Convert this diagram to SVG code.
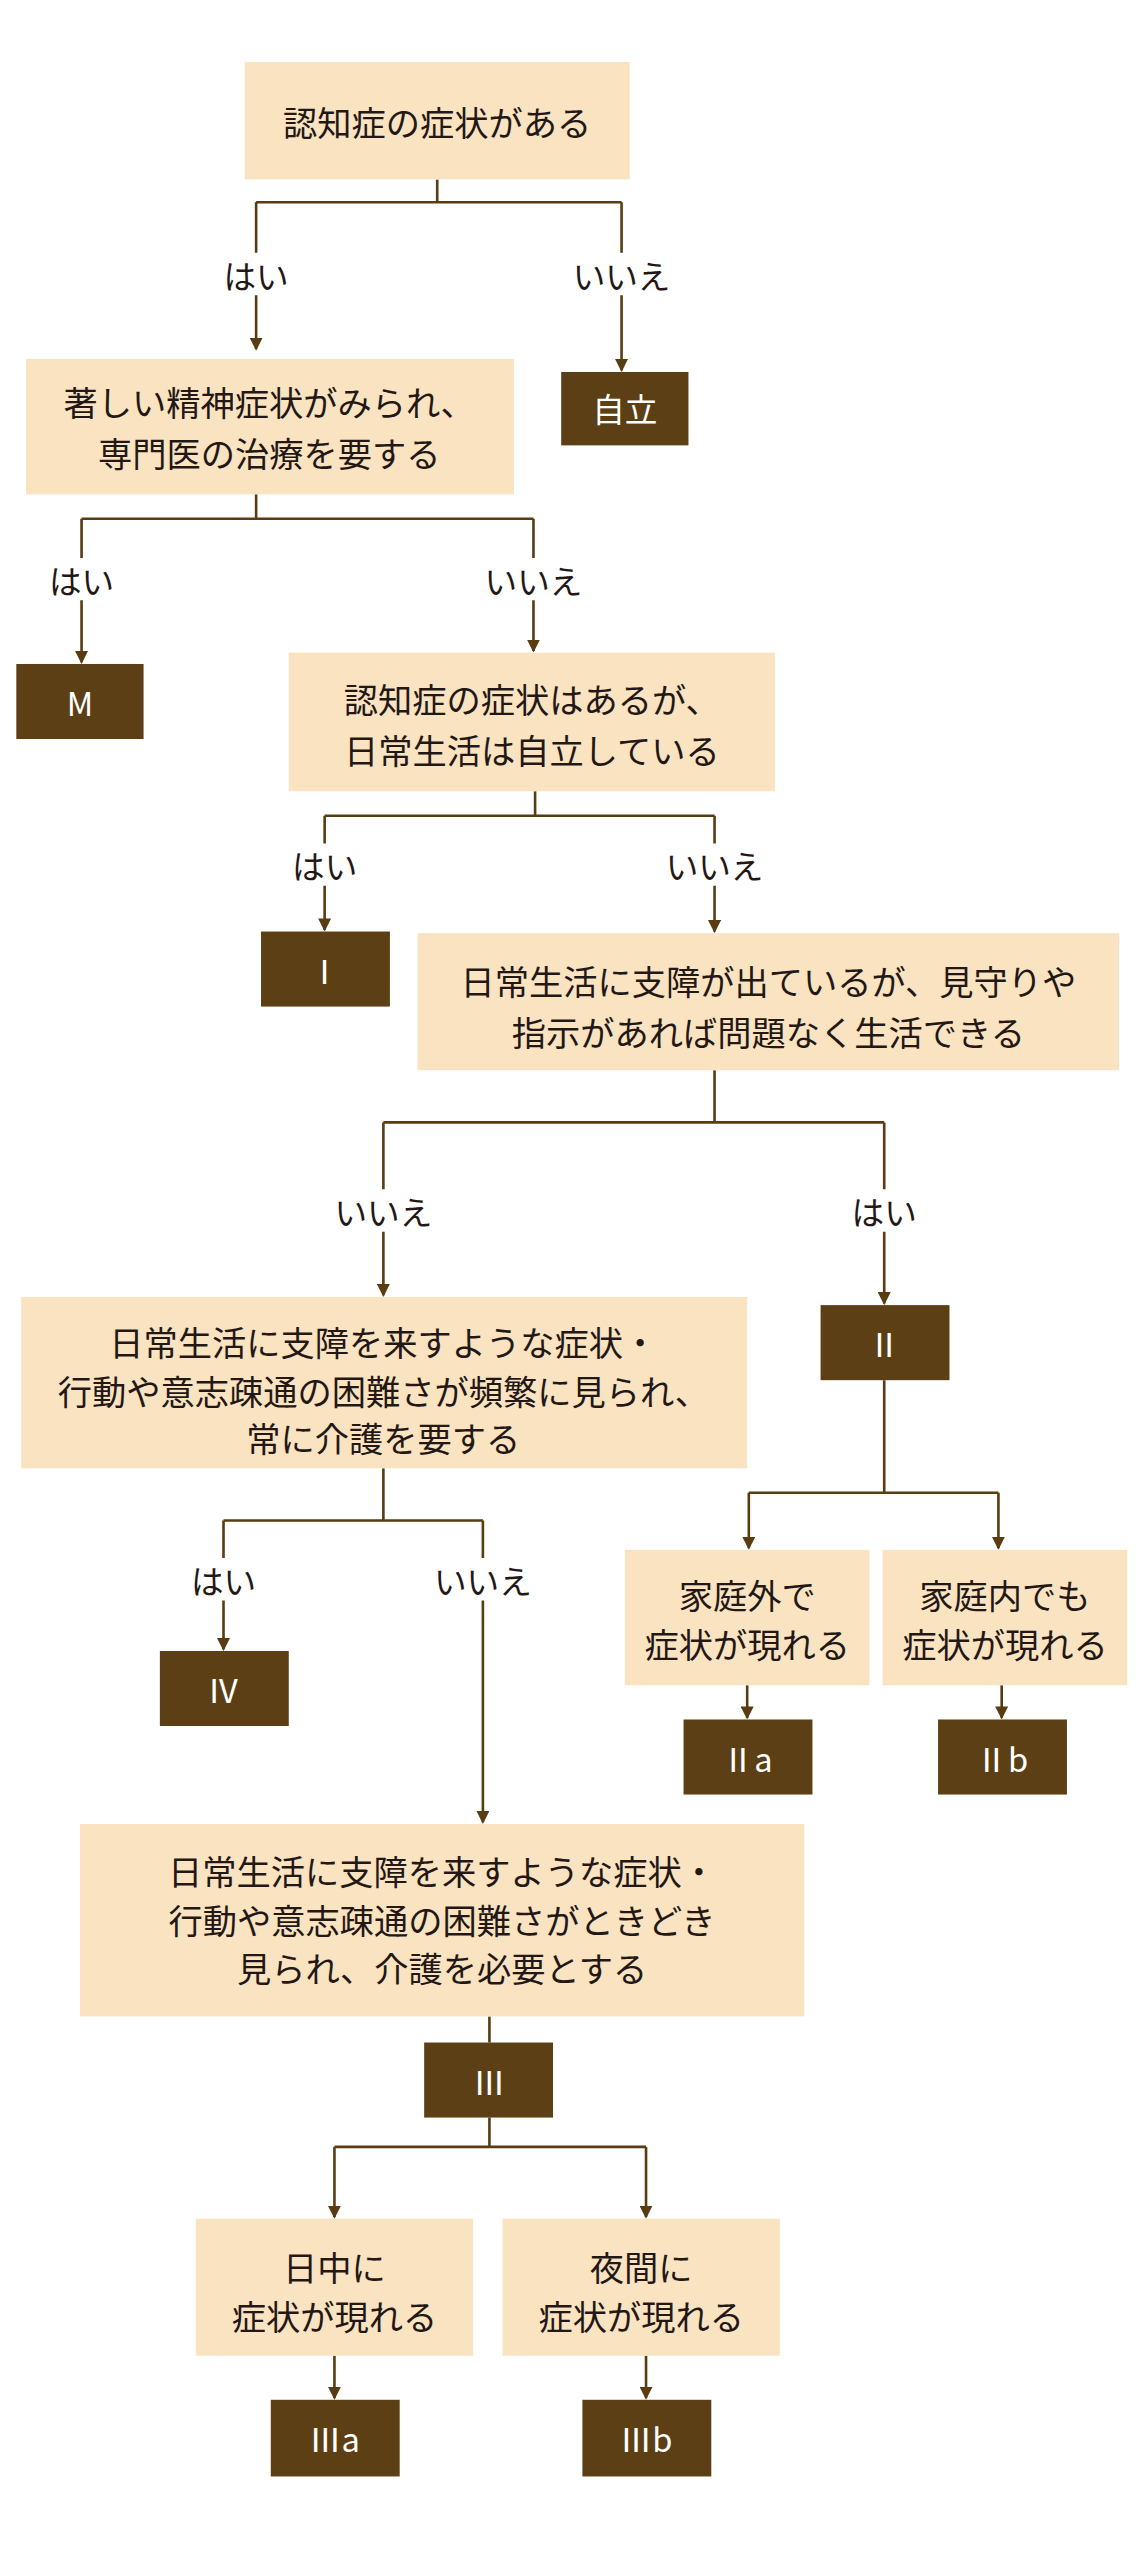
<svg xmlns="http://www.w3.org/2000/svg" width="1142" height="2560" viewBox="0 0 1142 2560">
<defs>
<marker id="ah" markerWidth="8" markerHeight="8" refX="7" refY="4" orient="auto" markerUnits="userSpaceOnUse"><path d="M0,0 L8,4 L0,8 z" fill="#5a3c12"/></marker>
<style>
.lt{fill:#fae3c1}
.dk{fill:#5c3f14}
text{font-family:"Noto Sans CJK JP","Noto Sans",sans-serif;font-size:21px;fill:#231815;text-anchor:middle;dominant-baseline:central}
.w{fill:#fff;font-size:20px}
.c{fill:none;stroke:#5a3c12;stroke-width:1.6}
.lb{font-size:20px}
</style>
</defs>
<rect width="1142" height="2560" fill="#fff"/>
<g transform="scale(1.6314)">
<g id="connectors">
<path class="c" d="M268,110 V124 M157,124 H381"/>
<path class="c" d="M157,124 V155 M157,181 V214" marker-end="url(#ah)"/>
<path class="c" d="M381,124 V155 M381,181 V227" marker-end="url(#ah)"/>
<path class="c" d="M157,303 V318 M50,318 H327"/>
<path class="c" d="M50,318 V342 M50,368 V406" marker-end="url(#ah)"/>
<path class="c" d="M327,318 V342 M327,368 V399" marker-end="url(#ah)"/>
<path class="c" d="M328,485 V500 M199,500 H438"/>
<path class="c" d="M199,500 V517 M199,543 V570" marker-end="url(#ah)"/>
<path class="c" d="M438,500 V517 M438,543 V571" marker-end="url(#ah)"/>
<path class="c" d="M438,656 V688 M235,688 H542"/>
<path class="c" d="M235,688 V729 M235,755 V794" marker-end="url(#ah)"/>
<path class="c" d="M542,688 V729 M542,755 V799" marker-end="url(#ah)"/>
<path class="c" d="M542,846 V915 M459,915 H612"/>
<path class="c" d="M459,915 V949" marker-end="url(#ah)"/>
<path class="c" d="M612,915 V949" marker-end="url(#ah)"/>
<path class="c" d="M458,1033 V1053" marker-end="url(#ah)"/>
<path class="c" d="M614,1033 V1053" marker-end="url(#ah)"/>
<path class="c" d="M235,900 V932 M137,932 H296"/>
<path class="c" d="M137,932 V955 M137,981 V1011" marker-end="url(#ah)"/>
<path class="c" d="M296,932 V955 M296,981 V1117" marker-end="url(#ah)"/>
<path class="c" d="M300,1236 V1252 M300,1298 V1316 M205,1316 H396"/>
<path class="c" d="M205,1316 V1359" marker-end="url(#ah)"/>
<path class="c" d="M396,1316 V1359" marker-end="url(#ah)"/>
<path class="c" d="M205,1444 V1470" marker-end="url(#ah)"/>
<path class="c" d="M396,1444 V1470" marker-end="url(#ah)"/>
<text class="lb" x="157" y="168">はい</text>
<text class="lb" x="381" y="168">いいえ</text>
<text class="lb" x="50" y="355">はい</text>
<text class="lb" x="327" y="355">いいえ</text>
<text class="lb" x="199" y="530">はい</text>
<text class="lb" x="438" y="530">いいえ</text>
<text class="lb" x="235" y="742">いいえ</text>
<text class="lb" x="542" y="742">はい</text>
<text class="lb" x="137" y="968">はい</text>
<text class="lb" x="296" y="968">いいえ</text>
</g>
<g id="n1"><rect class="lt" x="150" y="38" width="236" height="72"/><text x="268" y="74">認知症の症状がある</text></g>
<g id="n2"><rect class="lt" x="16" y="220" width="299" height="83"/><text x="165" y="246">著しい精神症状がみられ、</text><text x="165" y="277">専門医の治療を要する</text></g>
<g id="jiritsu"><rect class="dk" x="344" y="228" width="78" height="45"/><text class="w" x="383" y="250">自立</text></g>
<g id="M"><rect class="dk" x="10" y="407" width="78" height="46"/><text class="w" x="49" y="430">M</text></g>
<g id="n3"><rect class="lt" x="177" y="400" width="298" height="85"/><text x="326" y="428">認知症の症状はあるが、</text><text x="326" y="459">日常生活は自立している</text></g>
<g id="I"><rect class="dk" x="160" y="571" width="79" height="46"/><text class="w" x="199" y="594">Ⅰ</text></g>
<g id="n4"><rect class="lt" x="256" y="572" width="430" height="84"/><text x="471" y="601">日常生活に支障が出ているが、見守りや</text><text x="471" y="632">指示があれば問題なく生活できる</text></g>
<g id="n5"><rect class="lt" x="13" y="795" width="445" height="105"/><text x="235" y="822">日常生活に支障を来すような症状・</text><text x="235" y="852">行動や意志疎通の困難さが頻繁に見られ、</text><text x="235" y="881">常に介護を要する</text></g>
<g id="II"><rect class="dk" x="503" y="800" width="79" height="46"/><text class="w" x="542" y="823">Ⅱ</text></g>
<g id="n2a"><rect class="lt" x="383" y="950" width="150" height="83"/><text x="458" y="977">家庭外で</text><text x="458" y="1007">症状が現れる</text></g>
<g id="n2b"><rect class="lt" x="541" y="950" width="150" height="83"/><text x="616" y="977">家庭内でも</text><text x="616" y="1007">症状が現れる</text></g>
<g id="IIa"><rect class="dk" x="419" y="1054" width="79" height="46"/><text class="w" x="458" y="1077">Ⅱa</text></g>
<g id="IIb"><rect class="dk" x="575" y="1054" width="79" height="46"/><text class="w" x="614" y="1077">Ⅱb</text></g>
<g id="IV"><rect class="dk" x="98" y="1012" width="79" height="46"/><text class="w" x="137" y="1035">Ⅳ</text></g>
<g id="n6"><rect class="lt" x="49" y="1118" width="444" height="118"/><text x="271" y="1146">日常生活に支障を来すような症状・</text><text x="271" y="1176">行動や意志疎通の困難さがときどき</text><text x="271" y="1206">見られ、介護を必要とする</text></g>
<g id="III"><rect class="dk" x="260" y="1252" width="79" height="46"/><text class="w" x="300" y="1275">Ⅲ</text></g>
<g id="n3a"><rect class="lt" x="120" y="1360" width="170" height="84"/><text x="205" y="1389">日中に</text><text x="205" y="1419">症状が現れる</text></g>
<g id="n3b"><rect class="lt" x="308" y="1360" width="170" height="84"/><text x="393" y="1389">夜間に</text><text x="393" y="1419">症状が現れる</text></g>
<g id="IIIa"><rect class="dk" x="166" y="1471" width="79" height="47"/><text class="w" x="205" y="1494">Ⅲa</text></g>
<g id="IIIb"><rect class="dk" x="357" y="1471" width="79" height="47"/><text class="w" x="396" y="1494">Ⅲb</text></g>
</g>
</svg>
